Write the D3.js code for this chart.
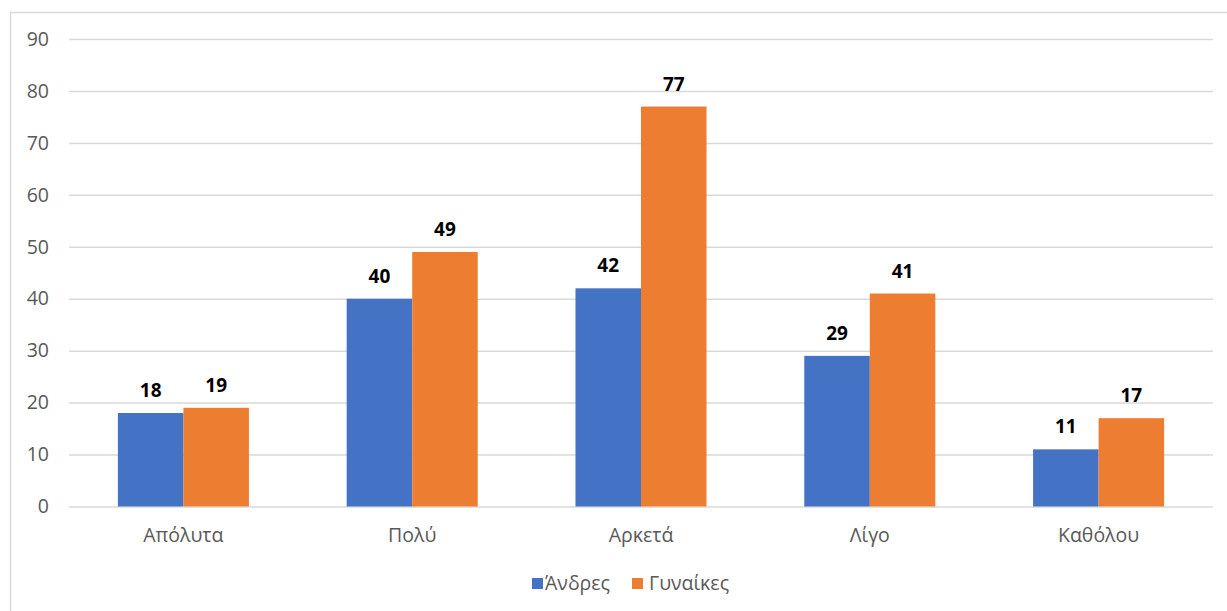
<!DOCTYPE html>
<html><head><meta charset="utf-8">
<script src="https://cdn.jsdelivr.net/npm/d3@7"></script>
<style>
html,body{margin:0;padding:0;background:#fff;}
svg{display:block;font-family:"Open Sans","Noto Sans",sans-serif;}
</style></head>
<body>
<svg id="chart" width="1227" height="611"></svg>
<script>
const categories = ["Απόλυτα", "Πολύ", "Αρκετά", "Λίγο", "Καθόλου"];
const seriesNames = ["Άνδρες", "Γυναίκες"];
const men = [18, 40, 42, 29, 11];
const women = [19, 49, 77, 41, 17];
const yTicks = [0, 10, 20, 30, 40, 50, 60, 70, 80, 90];
const colors = ["#4472C4", "#ED7D31"];

(function () {
const svg = d3.select("#chart");
const values = [men, women];

// chart border
svg.append("rect").attr("x", 10.5).attr("y", 12.5).attr("width", 1240).attr("height", 620)
  .attr("fill", "none").attr("stroke", "#d9d9d9").attr("stroke-width", 1.5);

const pLeft = 69, pRight = 1213, pTop = 39, pBottom = 506.5;
const y = d3.scaleLinear().domain([0, 90]).range([pBottom, pTop]);
const x0 = d3.scaleBand().domain(categories).range([pLeft, pRight]).padding(0);
const x1 = d3.scaleBand().domain(seriesNames).range([0, x0.bandwidth()]).paddingInner(0).paddingOuter(0.746);

// gridlines
const yAxis = d3.axisLeft(y).tickValues(yTicks).tickSize(-(pRight - pLeft)).tickPadding(20);
const ga = svg.append("g").attr("transform", `translate(${pLeft},0)`).call(yAxis);
ga.attr("font-family", null).attr("font-size", null);
ga.select(".domain").remove();
ga.selectAll(".tick line").attr("stroke", "#d9d9d9").attr("stroke-width", 1.5);
ga.selectAll(".tick text").attr("fill", "#595959").attr("font-size", 19.5);

// bars
const groups = svg.append("g").selectAll("g").data(categories).join("g")
  .attr("transform", d => `translate(${x0(d)},0)`);
seriesNames.forEach((s, si) => {
  groups.append("rect")
    .attr("x", x1(s))
    .attr("width", x1.bandwidth())
    .attr("y", (d, i) => y(values[si][i]))
    .attr("height", (d, i) => y(0) - y(values[si][i]))
    .attr("fill", colors[si]);
  groups.append("text")
    .attr("x", x1(s) + x1.bandwidth() / 2)
    .attr("y", (d, i) => y(values[si][i]) - 16)
    .attr("text-anchor", "middle")
    .attr("font-size", 19).attr("font-weight", "bold").attr("fill", "#000")
    .text((d, i) => values[si][i]);
});

// x axis labels
const xAxis = d3.axisBottom(x0).tickSize(0).tickPadding(22);
const gx = svg.append("g").attr("transform", `translate(0,${pBottom})`).call(xAxis);
gx.attr("font-family", null).attr("font-size", null);
gx.select(".domain").remove();
gx.selectAll(".tick text").attr("fill", "#595959").attr("font-size", 19.5);

// legend
const legendItems = [{ x: 532, tx: 545 }, { x: 632, tx: 649 }];
seriesNames.forEach((s, i) => {
  const g = svg.append("g");
  g.append("rect").attr("x", legendItems[i].x).attr("y", 578).attr("width", 11).attr("height", 11).attr("fill", colors[i]);
  g.append("text").attr("x", legendItems[i].tx).attr("y", 583.5).attr("dy", "0.35em")
    .attr("font-size", 19.5).attr("fill", "#595959").text(s);
});
})();
</script>
</body></html>
